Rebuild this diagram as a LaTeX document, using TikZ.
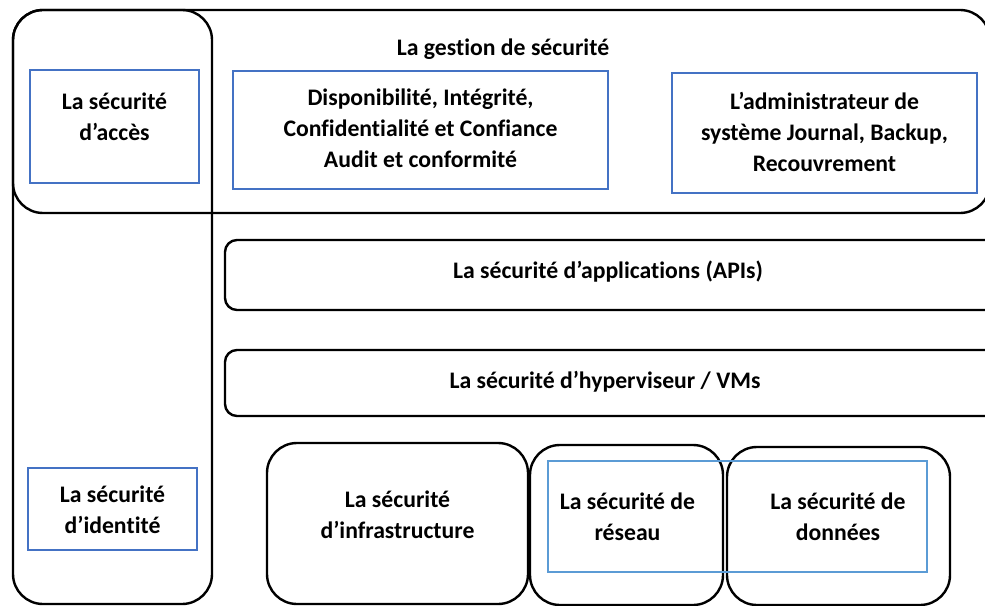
\documentclass[tikz,border=0pt]{standalone}
\usepackage{fontspec}
\setmainfont[Ligatures=NoCommon]{Carlito}
\definecolor{boxblue}{RGB}{68,114,196}
\definecolor{lightblue}{RGB}{91,155,213}
\begin{document}
\begin{tikzpicture}[x=1bp,y=-1bp,
  frame/.style={draw=black, line width=2.4bp, rounded corners=#1,
    anchor=north west, inner sep=0pt, outer sep=0pt},
  frame/.default=30bp,
  bluebox/.style={draw=boxblue, line width=2bp,
    anchor=north west, inner sep=0pt, outer sep=0pt},
  lbl/.style={font=\bfseries\fontsize{23.8}{31}\selectfont, align=center,
    inner sep=0pt}]
\useasboundingbox (0,0) rectangle (985,606);
\clip (0,0) rectangle (985,606);

% outer frames
\node[frame, minimum width=199bp, minimum height=594bp] (acces) at (13,10) {};
\node[frame, minimum width=977bp, minimum height=203bp] (gestion) at (13,10) {};

% management layer contents
\node[bluebox, minimum width=169bp, minimum height=113bp] (accesbox) at (30,70) {};
\node[bluebox, minimum width=375bp, minimum height=118bp] (dic) at (233,71) {};
\node[bluebox, minimum width=305bp, minimum height=120bp] (admin) at (672,73) {};

\node[lbl] (titre) at (503,49) {La gestion de sécurité};
\node[lbl] (tacces) at (114.5,116.5) {La sécurité\\d’accès};
\node[lbl] (tdic) at (420.5,128) {Disponibilité, Intégrité,\\Confidentialité et Confiance\\Audit et conformité};
\node[lbl] (tadmin) at (824.5,132) {L’administrateur de\\système Journal, Backup,\\Recouvrement};

% application and hypervisor layers
\node[frame=12bp, minimum width=785bp, minimum height=70bp] (apps) at (225,240) {};
\node[frame=12bp, minimum width=785bp, minimum height=66bp] (hyp) at (225,350) {};
\node[lbl] (tapps) at (608,272) {La sécurité d’applications (APIs)};
\node[lbl] (thyp) at (605,382) {La sécurité d’hyperviseur / VMs};

% bottom layer
\node[frame, minimum width=261bp, minimum height=161bp] (infra) at (267,443) {};
\node[frame, minimum width=193bp, minimum height=160bp] (reseau) at (530,445) {};
\node[frame, minimum width=223bp, minimum height=158bp] (donnees) at (727,447) {};
\node[draw=lightblue, line width=2bp, anchor=north west, inner sep=0pt,
  minimum width=379bp, minimum height=111bp] (rdbox) at (547,460) {};
\node[lbl] (tinfra) at (397.5,515) {La sécurité\\d’infrastructure};
\node[lbl] (treseau) at (627.5,517) {La sécurité de\\réseau};
\node[lbl] (tdonnees) at (838,517) {La sécurité de\\données};

% identity
\node[bluebox, minimum width=169bp, minimum height=82bp] (identbox) at (28,468) {};
\node[lbl] (tident) at (112.5,510) {La sécurité\\d’identité};
\end{tikzpicture}
\end{document}
